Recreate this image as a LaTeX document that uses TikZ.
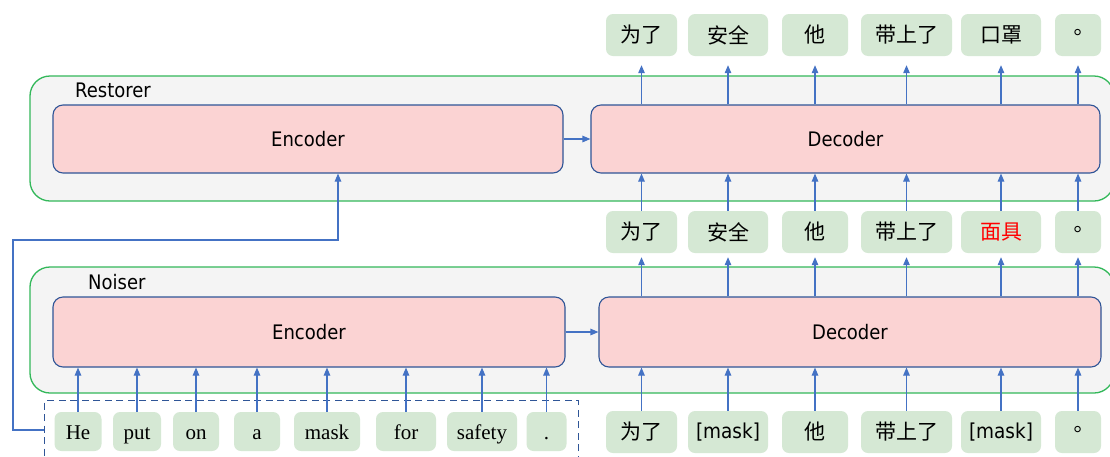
\documentclass[tikz,border=0pt]{standalone}
\usepackage{fontspec}
\setmainfont{DejaVu Sans Condensed}
\newfontfamily\cjk{Noto Sans CJK SC}
\newfontfamily\cjktc{Noto Sans CJK TC}
\newfontfamily\serifen{Liberation Serif}
\usetikzlibrary{arrows.meta}
\definecolor{tokfill}{HTML}{D5E8D4}
\definecolor{pinkfill}{HTML}{FBD3D3}
\definecolor{blockline}{HTML}{2F5597}
\definecolor{outerfill}{HTML}{F4F4F4}
\definecolor{outerline}{HTML}{33B85A}
\definecolor{arrowblue}{HTML}{4472C4}
\definecolor{maskred}{HTML}{FF0000}
\tikzset{
  tok/.style={fill=tokfill, draw=none, rounded corners=7pt, minimum height=42pt, inner sep=0pt, font=\cjk\fontsize{21}{24}\selectfont},
  etok/.style={tok, minimum height=39pt, text height=20pt, text depth=4pt, font=\serifen\fontsize{21}{24}\selectfont},
  sanstok/.style={font=\fontsize{20.5}{24}\selectfont},
  block/.style={fill=pinkfill, draw=blockline, line width=1.1pt, rounded corners=10pt, inner sep=0pt, font=\fontsize{20}{24}\selectfont},
  outerbox/.style={fill=outerfill, draw=outerline, line width=1.3pt, rounded corners=20pt},
  lbl/.style={inner sep=0pt, anchor=west, font=\fontsize{20}{24}\selectfont},
  arr/.style={draw=arrowblue, line width=1.1pt, -{Triangle[length=8pt,width=6.5pt]}},
  dashbox/.style={draw=blockline, line width=1.4pt, dash pattern=on 7pt off 4.5pt, fill=none, inner sep=0pt}
}
\begin{document}
\begin{tikzpicture}[x=1pt, y=-1pt]
\useasboundingbox (0,0) rectangle (1110,456);
\clip (0,0) rectangle (1110,456);
\fill[white] (0,0) rectangle (1110,456);

% outer containers
\draw[outerbox] (30,76) rectangle (1114,201);
\draw[outerbox] (30,267) rectangle (1114,393);
\node[lbl] (rlab) at (75,90) {Restorer};
\node[lbl] (nlab) at (88,282) {Noiser};

% blocks
\node[block, minimum width=510pt, minimum height=68pt] (renc) at (308,139) {Encoder};
\node[block, minimum width=509pt, minimum height=68pt] (rdec) at (845.5,139) {Decoder};
\node[block, minimum width=512pt, minimum height=70pt] (nenc) at (309,332) {Encoder};
\node[block, minimum width=502pt, minimum height=70pt] (ndec) at (850,332) {Decoder};

% top output tokens
\node[tok, minimum width=71pt] (t1) at (641.5,35) {为了};
\node[tok, minimum width=80pt] (t2) at (728,35) {安全};
\node[tok, minimum width=66pt] (t3) at (815,35) {他};
\node[tok, minimum width=91pt] (t4) at (906.5,35) {带上了};
\node[tok, minimum width=80pt] (t5) at (1001,35) {口罩};
\node[tok, minimum width=46pt, font=\cjktc\fontsize{21}{24}\selectfont] (t6) at (1078,35) {。};

% middle tokens
\node[tok, minimum width=71pt] (m1) at (641.5,232) {为了};
\node[tok, minimum width=80pt] (m2) at (728,232) {安全};
\node[tok, minimum width=66pt] (m3) at (815,232) {他};
\node[tok, minimum width=91pt] (m4) at (906.5,232) {带上了};
\node[tok, minimum width=80pt, text=maskred] (m5) at (1001,232) {面具};
\node[tok, minimum width=46pt, font=\cjktc\fontsize{21}{24}\selectfont] (m6) at (1078,232) {。};

% bottom chinese tokens
\node[tok, minimum width=71pt] (b1) at (641.5,432) {为了};
\node[tok, minimum width=80pt, sanstok] (b2) at (728,432) {[mask]};
\node[tok, minimum width=66pt] (b3) at (815,432) {他};
\node[tok, minimum width=91pt] (b4) at (906.5,432) {带上了};
\node[tok, minimum width=80pt, sanstok] (b5) at (1001,432) {[mask]};
\node[tok, minimum width=46pt, font=\cjktc\fontsize{21}{24}\selectfont] (b6) at (1078,432) {。};

% english tokens
\node[etok, minimum width=47pt] (e1) at (78,431.5) {He};
\node[etok, minimum width=48pt] (e2) at (137,431.5) {put};
\node[etok, minimum width=46pt] (e3) at (196,431.5) {on};
\node[etok, minimum width=46pt] (e4) at (257,431.5) {a};
\node[etok, minimum width=66pt] (e5) at (327,431.5) {mask};
\node[etok, minimum width=60pt] (e6) at (406,431.5) {for};
\node[etok, minimum width=70pt] (e7) at (482,431.5) {safety};
\node[etok, minimum width=40pt] (e8) at (546.5,431.5) {.};

% dashed input box
\node[dashbox, anchor=north west, minimum width=534pt, minimum height=80pt] (dbox) at (44,400) {};

% encoder -> decoder
\draw[arr] (renc.east) -- (rdec.west);
\draw[arr] (nenc.east) -- (ndec.west);

% decoder inputs and outputs
\foreach \i in {1,...,6}{
  \draw[arr, shorten >=9pt] (rdec.north -| t\i) -- (t\i.south);
  \draw[arr] (m\i.north) -- (rdec.south -| m\i);
  \draw[arr, shorten >=4pt] (ndec.north -| m\i) -- (m\i.south);
  \draw[arr] (b\i.north) -- (ndec.south -| b\i);
}
\foreach \i in {1,...,8}{
  \draw[arr] (e\i.north) -- (nenc.south -| e\i);
}

% feed of the input sentence to the restorer encoder
\coordinate (c1) at (13,430);
\coordinate (c2) at (13,240);
\coordinate (c3) at (338,240);
\draw[arr] (dbox.west |- c1) -- (c1) -- (c2) -- (c3) -- (c3 |- renc.south);
\end{tikzpicture}
\end{document}
